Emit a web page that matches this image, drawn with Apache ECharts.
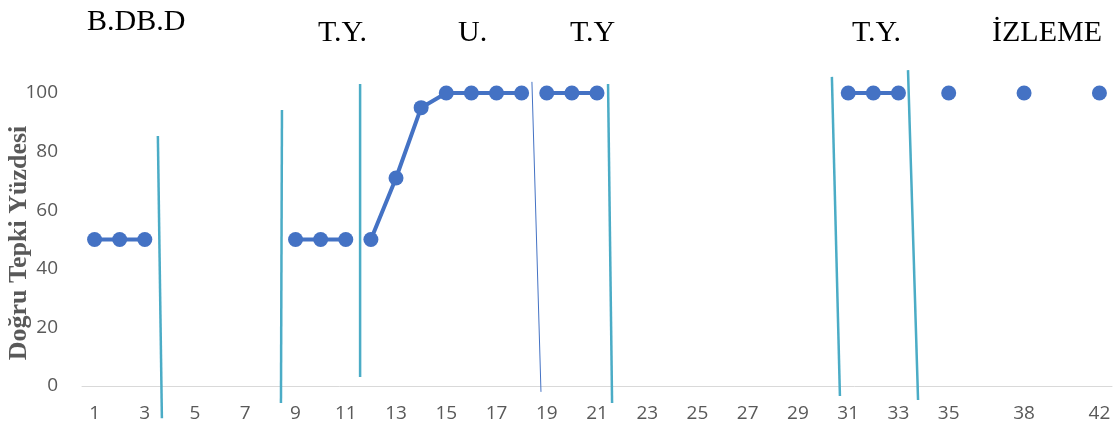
<!DOCTYPE html>
<html>
<head>
<meta charset="utf-8">
<script src="https://cdn.jsdelivr.net/npm/echarts@6/dist/echarts.min.js"></script>
<style>
  html, body { margin: 0; padding: 0; background: #fff; }
  #chart { width: 1119px; height: 429px; }
</style>
</head>
<body>
<div id="chart"></div>
<script>
// ---- Data ----
const categories = ['1','2','3','4','5','6','7','8','9','10','11','12','13','14','15','16','17','18','19','20',
  '21','22','23','24','25','26','27','28','29','30','31','32','33','34','35','','','38','','','42'];
const tickLabels = ['1','3','5','7','9','11','13','15','17','19','21','23','25','27','29','31','33','35','38','42'];
const yTicks = [0, 20, 40, 60, 80, 100];

// Phase values (start category, values)
const bdbdStart = '1';   const bdbdValues = [50, 50, 50];
const ty1Start = '9';    const ty1Values = [50, 50, 50];
const uStart = '12';     const uValues = [50, 71, 95, 100, 100, 100, 100];
const ty2Start = '19';   const ty2Values = [100, 100, 100];
const ty3Start = '31';   const ty3Values = [100, 100, 100];
const izlemeCats = ['35', '38', '42']; const izlemeValues = [100, 100, 100];

// Phase-change lines in data units: [xIndex1, y1, xIndex2, y2]
const phaseLinesCyan = [
  [2.52, 85.3, 2.68, -11],
  [7.46, 94.2, 7.42, -5.8],
  [10.57, 103.1, 10.57, 3.1],
  [20.44, 103.1, 20.60, -5.8],
  [29.35, 105.5, 29.67, -3.4],
  [32.38, 107.8, 32.78, -4.8]
];
const phaseLinesThin = [
  [17.41, 103.8, 17.77, -2.0]
];

// Phase titles and axis title
const phaseTitles = ['B.DB.D', 'T.Y.', 'U.', 'T.Y', 'T.Y.', 'İZLEME'];
const yTitle = 'Doğru Tepki Yüzdesi';

// ---- Build ----
function place(startCat, values) {
  const arr = categories.map(() => null);
  const s = categories.indexOf(startCat);
  values.forEach((v, i) => { arr[s + i] = v; });
  return arr;
}
function placeCats(cats, values) {
  const arr = categories.map(() => null);
  cats.forEach((c, i) => { arr[categories.lastIndexOf(c)] = values[i]; });
  return arr;
}
const blue = '#4472c4';
function phaseSeries(data) {
  return {
    type: 'line', xAxisIndex: 0, yAxisIndex: 0, data: data,
    connectNulls: false, showSymbol: true, showAllSymbol: true,
    symbol: 'circle', symbolSize: 15,
    lineStyle: { color: blue, width: 4 },
    itemStyle: { color: blue },
    emphasis: { disabled: true }, z: 3, animation: false
  };
}
function lineSeries(l, color, width) {
  return {
    type: 'line', xAxisIndex: 1, yAxisIndex: 0,
    data: [[l[0], l[1]], [l[2], l[3]]],
    showSymbol: false, clip: false, silent: true,
    lineStyle: { color: color, width: width },
    z: 2, animation: false
  };
}

const series = [
  phaseSeries(place(bdbdStart, bdbdValues)),
  phaseSeries(place(ty1Start, ty1Values)),
  phaseSeries(place(uStart, uValues)),
  phaseSeries(place(ty2Start, ty2Values)),
  phaseSeries(place(ty3Start, ty3Values)),
  phaseSeries(placeCats(izlemeCats, izlemeValues))
];
phaseLinesCyan.forEach(l => series.push(lineSeries(l, '#4bacc6', 2.5)));
phaseLinesThin.forEach(l => series.push(lineSeries(l, '#4472c4', 1)));

const titleFont = '"Liberation Serif", "Times New Roman", serif';
const titlePos = [[87, 22], [318, 33], [458, 33], [570, 33], [852, 33], [992, 33]];

const graphics = phaseTitles.map((t, i) => ({
  type: 'text', x: titlePos[i][0], y: titlePos[i][1],
  style: { text: t, font: '30px ' + titleFont, fill: '#000', textAlign: 'left', textVerticalAlign: 'middle' },
  silent: true
}));
graphics.push({
  type: 'text', x: 19, y: 243, rotation: Math.PI / 2,
  style: { text: yTitle, font: 'bold 26px ' + titleFont, fill: '#595959', textAlign: 'center', textVerticalAlign: 'middle' },
  silent: true
});

const chart = echarts.init(document.getElementById('chart'), null, { renderer: 'canvas' });
chart.setOption({
  animation: false,
  backgroundColor: '#ffffff',
  grid: { left: 82, right: 7, top: 93, bottom: 43, containLabel: false, outerBoundsMode: 'none' },
  xAxis: [{
    type: 'category', data: categories, boundaryGap: true,
    axisLine: { show: true, lineStyle: { color: '#d9d9d9', width: 1 } },
    axisTick: { show: false },
    splitLine: { show: false },
    axisLabel: {
      interval: (idx, val) => tickLabels.includes(val) && categories.indexOf(val) === idx,
      color: '#595959', fontSize: 19, fontFamily: '"Open Sans", sans-serif', margin: 18
    }
  }, {
    type: 'value', min: -0.5, max: categories.length - 0.5, show: false
  }],
  yAxis: [{
    type: 'value', min: yTicks[0], max: yTicks[yTicks.length - 1], interval: 20,
    axisLine: { show: false }, axisTick: { show: false }, splitLine: { show: false },
    axisLabel: { color: '#595959', fontSize: 19, fontFamily: '"Open Sans", sans-serif', margin: 24 }
  }],
  graphic: graphics,
  series: series
});
</script>
</body>
</html>
